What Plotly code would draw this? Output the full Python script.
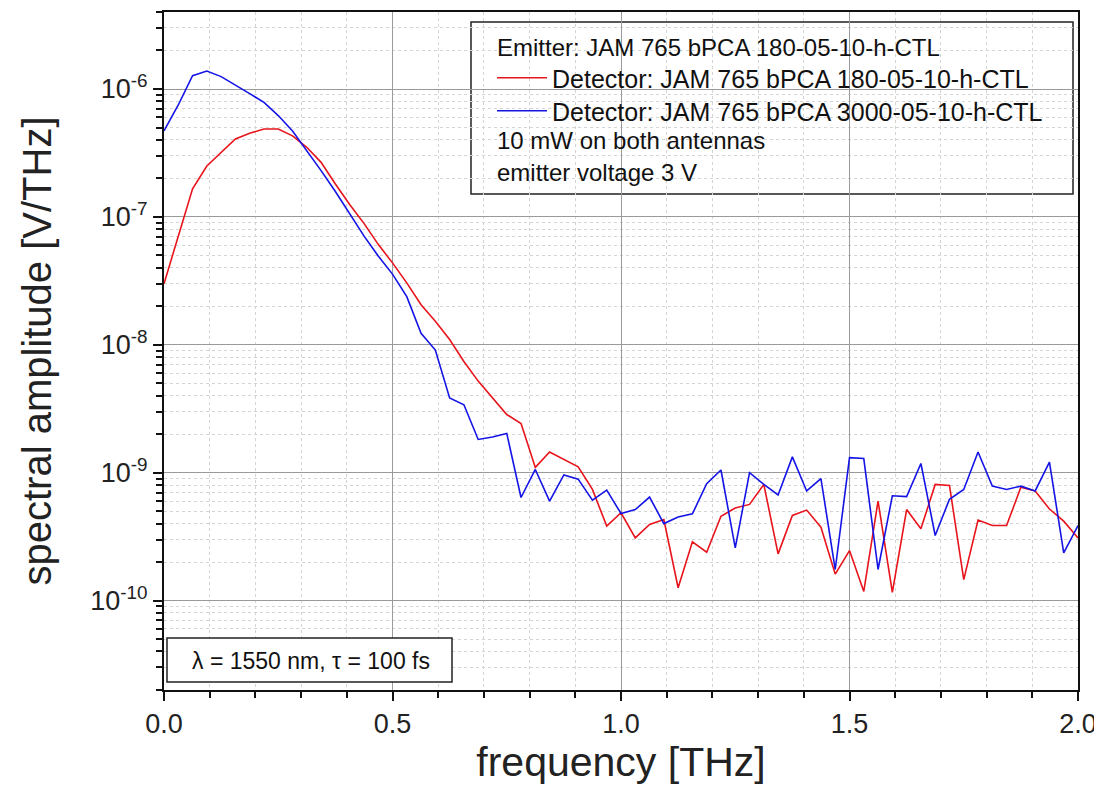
import plotly.graph_objects as go

# frequency samples [THz]
freq = [0.0, 0.03125, 0.0625, 0.09375, 0.125, 0.15625, 0.1875, 0.21875, 0.25,
        0.28125, 0.3125, 0.34375, 0.375, 0.40625, 0.4375, 0.46875, 0.5,
        0.53125, 0.5625, 0.59375, 0.625, 0.65625, 0.6875, 0.71875, 0.75,
        0.78125, 0.8125, 0.84375, 0.875, 0.90625, 0.9375, 0.96875, 1.0,
        1.03125, 1.0625, 1.09375, 1.125, 1.15625, 1.1875, 1.21875, 1.25,
        1.28125, 1.3125, 1.34375, 1.375, 1.40625, 1.4375, 1.46875, 1.5,
        1.53125, 1.5625, 1.59375, 1.625, 1.65625, 1.6875, 1.71875, 1.75,
        1.78125, 1.8125, 1.84375, 1.875, 1.90625, 1.9375, 1.96875, 2.0]

# Detector 180-05-10-h-CTL (red)
amp_180 = [3.0e-8, 7.0e-8, 1.66e-7, 2.5e-7, 3.2e-7, 4.07e-7, 4.5e-7, 4.87e-7, 4.87e-7,
           4.3e-7, 3.5e-7, 2.67e-7, 1.81e-7, 1.25e-7, 8.9e-8, 6.1e-8, 4.37e-8,
           3.05e-8, 2.06e-8, 1.53e-8, 1.1e-8, 7.4e-9, 5.2e-9, 3.85e-9, 2.85e-9,
           2.42e-9, 1.1e-9, 1.45e-9, 1.27e-9, 1.11e-9, 7.4e-10, 3.82e-10, 4.86e-10,
           3.09e-10, 3.94e-10, 4.3e-10, 1.26e-10, 2.88e-10, 2.39e-10, 4.57e-10, 5.3e-10,
           5.65e-10, 8.1e-10, 2.32e-10, 4.63e-10, 5.1e-10, 3.75e-10, 1.61e-10, 2.46e-10,
           1.18e-10, 6.0e-10, 1.16e-10, 5.15e-10, 3.64e-10, 8.1e-10, 7.95e-10, 1.46e-10,
           4.26e-10, 3.86e-10, 3.86e-10, 7.7e-10, 7.2e-10, 5.2e-10, 4.18e-10, 3.09e-10]

# Detector 3000-05-10-h-CTL (blue)
amp_3000 = [4.7e-7, 7.5e-7, 1.27e-6, 1.38e-6, 1.25e-6, 1.08e-6, 9.2e-7, 7.85e-7, 6.2e-7,
            4.7e-7, 3.3e-7, 2.3e-7, 1.58e-7, 1.07e-7, 7.1e-8, 4.94e-8, 3.57e-8,
            2.38e-8, 1.23e-8, 9.1e-9, 3.84e-9, 3.4e-9, 1.82e-9, 1.9e-9, 2.03e-9,
            6.4e-10, 1.06e-9, 6.0e-10, 9.6e-10, 8.9e-10, 6.1e-10, 7.3e-10, 4.8e-10,
            5.15e-10, 6.45e-10, 4.0e-10, 4.5e-10, 4.77e-10, 8.2e-10, 1.05e-9, 2.58e-10,
            1.0e-9, 8.1e-10, 6.7e-10, 1.33e-9, 7.2e-10, 9.0e-10, 1.75e-10, 1.31e-9,
            1.29e-9, 1.75e-10, 6.6e-10, 6.5e-10, 1.18e-9, 3.23e-10, 6.2e-10, 7.4e-10,
            1.45e-9, 7.85e-10, 7.4e-10, 7.85e-10, 7.2e-10, 1.21e-9, 2.36e-10, 3.86e-10]

series_names = ["Detector: JAM 765 bPCA 180-05-10-h-CTL",
                "Detector: JAM 765 bPCA 3000-05-10-h-CTL"]
series_colors = ["#e8141c", "#1414e6"]

x_ticks = [0.0, 0.5, 1.0, 1.5, 2.0]
x_ticktext = ["0.0", "0.5", "1.0", "1.5", "2.0"]
y_ticks = [1e-10, 1e-9, 1e-8, 1e-7, 1e-6]
y_ticktext = ["10<sup>-10</sup>", "10<sup>-9</sup>", "10<sup>-8</sup>",
              "10<sup>-7</sup>", "10<sup>-6</sup>"]
y_minor = [m * 10.0 ** e for e in range(-11, -5) for m in range(2, 10)]

legend_lines = ["Emitter: JAM 765 bPCA 180-05-10-h-CTL",
                "10 mW on both antennas",
                "emitter voltage 3 V"]
info_text = "λ = 1550 nm, τ = 100 fs"

FONT = "Liberation Sans, Arial, sans-serif"

fig = go.Figure()
for y, name, col, lg in zip([amp_180, amp_3000], series_names, series_colors,
                            ["legend", "legend2"]):
    fig.add_trace(go.Scatter(x=freq, y=y, mode="lines", name=name, legend=lg,
                             line=dict(color=col, width=1.6)))

# page is rendered with an 8px body margin
OFF = 8
W, H = 1102 - OFF, 785 - OFF
PL, PR, PT, PB = 164, 1078, 12, 690      # plot area in page pixels
L, T = PL - OFF, PT - OFF
R, B = W - (PR - OFF), H - (PB - OFF)
pw, ph = PR - PL, PB - PT


def px(xp):
    return (xp - PL) / pw


def py(yp):
    return (PB - yp) / ph


def legend_box(ytop):
    return dict(x=px(492), y=py(ytop), xanchor="left", yanchor="top",
                bgcolor="rgba(0,0,0,0)", borderwidth=0,
                font=dict(size=25, family=FONT, color="#111"),
                itemwidth=50, tracegroupgap=0)


fig.update_layout(
    width=W, height=H,
    margin=dict(l=L, r=R, t=T, b=B, autoexpand=False),
    paper_bgcolor="white", plot_bgcolor="white",
    font=dict(family=FONT, color="#111"),
    showlegend=True,
    legend=legend_box(55),
    legend2=legend_box(88),
    xaxis=dict(range=[0, 2.0], tickvals=x_ticks, ticktext=x_ticktext,
               ticks="outside", ticklen=9, tickwidth=2, tickcolor="#111",
               showline=True, linecolor="#111", linewidth=2, mirror=True,
               showgrid=True, gridcolor="#9a9a9a", gridwidth=1,
               zeroline=False, automargin=False,
               tickfont=dict(size=27, family=FONT, color="#222"),
               title=dict(text="frequency [THz]", font=dict(size=41, family=FONT, color="#222"),
                          standoff=10),
               minor=dict(dtick=0.1, tick0=0, ticks="outside", ticklen=6, tickwidth=2,
                          tickcolor="#111", showgrid=True, gridcolor="#d4d4d4",
                          griddash="dot", gridwidth=1)),
    yaxis=dict(type="log", range=[-10.699, -5.398], tickvals=y_ticks, ticktext=y_ticktext,
               ticks="outside", ticklen=9, tickwidth=2, tickcolor="#111",
               showline=True, linecolor="#111", linewidth=2, mirror=True,
               showgrid=True, gridcolor="#9a9a9a", gridwidth=1,
               zeroline=False, automargin=False,
               tickfont=dict(size=27, family=FONT, color="#222"),
               title=dict(text="spectral amplitude [V/THz]",
                          font=dict(size=40, family=FONT, color="#222"), standoff=26),
               minor=dict(tickvals=y_minor, ticks="outside", ticklen=6, tickwidth=2,
                          tickcolor="#111", showgrid=True, gridcolor="#d4d4d4",
                          griddash="dot", gridwidth=1)),
)

# legend frame
fig.add_shape(type="rect", xref="paper", yref="paper",
              x0=px(471), x1=px(1073), y0=py(194), y1=py(22),
              line=dict(color="#222", width=1.5), fillcolor="white", layer="below")
# info box
fig.add_shape(type="rect", xref="paper", yref="paper",
              x0=px(167), x1=px(452), y0=py(682), y1=py(638),
              line=dict(color="#222", width=1.5), fillcolor="white", layer="above")

for txt, yc in zip(legend_lines, [48, 141, 172]):
    fig.add_annotation(text=txt, xref="paper", yref="paper", x=px(495), y=py(yc),
                       xanchor="left", yanchor="middle", showarrow=False,
                       font=dict(size=24, family=FONT, color="#111"))

fig.add_annotation(text=info_text, xref="paper", yref="paper", x=px(311), y=py(661),
                   xanchor="center", yanchor="middle", showarrow=False,
                   font=dict(size=23, family=FONT, color="#111"))

fig.write_html("out.html")
